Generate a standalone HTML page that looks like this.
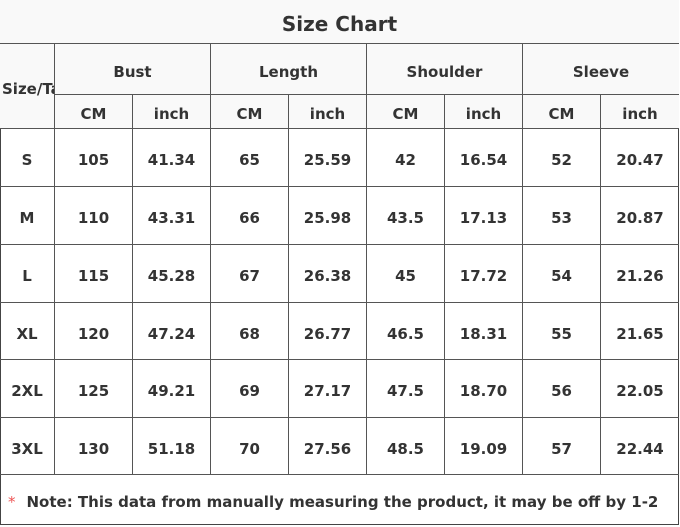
<!DOCTYPE html>
<html><head><meta charset="utf-8"><style>
body{margin:0;width:680px;height:527px;background:#fff;position:relative;overflow:hidden;font-family:"DejaVu Sans","Liberation Sans",sans-serif;font-weight:bold;color:#333}
.c{position:absolute;display:flex;align-items:center;justify-content:center;box-sizing:border-box;border-right:1.5px solid #555;border-bottom:1.5px solid #555;font-size:15px;overflow:hidden;white-space:nowrap;padding-top:5px}
.h{background:#f9f9f9}
</style></head><body>
<div style="position:absolute;left:0;top:0;width:679px;height:525px;border:1.5px solid #444;box-sizing:border-box"></div>
<div class="c h" style="left:0;top:0;width:679px;height:44px;font-size:20px;border-right:none;padding-top:4px">Size Chart</div>
<div class="c h" style="left:0;top:44px;width:55px;height:85px;justify-content:flex-start;padding-left:2px">Size/Tag</div>
<div class="c h" style="left:55px;top:44px;width:156px;height:51px">Bust</div>
<div class="c h" style="left:211px;top:44px;width:156px;height:51px">Length</div>
<div class="c h" style="left:367px;top:44px;width:156px;height:51px">Shoulder</div>
<div class="c h" style="left:523px;top:44px;width:156px;height:51px;border-right:none">Sleeve</div>
<div id="g"></div>
<div class="c" style="left:0;top:475px;width:679px;height:50px;justify-content:flex-start;padding-left:8px;border:none;font-size:15px;padding-top:4px"><span style="color:#e55;font-weight:normal;margin-right:11px">*</span>Note: This data from manually measuring the product, it may be off by 1-2</div>
<script>
var xs=[0,55,133,211,289,367,445,523,601,679];
var rows=[["S",105,"41.34",65,"25.59",42,"16.54",52,"20.47"],["M",110,"43.31",66,"25.98","43.5","17.13",53,"20.87"],["L",115,"45.28",67,"26.38",45,"17.72",54,"21.26"],["XL",120,"47.24",68,"26.77","46.5","18.31",55,"21.65"],["2XL",125,"49.21",69,"27.17","47.5","18.70",56,"22.05"],["3XL",130,"51.18",70,"27.56","48.5","19.09",57,"22.44"]];
var h="";
for(var i=1;i<9;i++){h+='<div class="c h" style="left:'+xs[i]+'px;top:95px;width:'+(xs[i+1]-xs[i])+'px;height:34px;'+(i==8?'border-right:none':'')+'">'+(i%2?'CM':'inch')+'</div>';}
var ys=[129,187,245,303,360,418,475];
for(var r=0;r<6;r++)for(var i=0;i<9;i++){h+='<div class="c" style="left:'+xs[i]+'px;top:'+ys[r]+'px;width:'+(xs[i+1]-xs[i])+'px;height:'+(ys[r+1]-ys[r])+'px;'+(i==8?'border-right:none':'')+'">'+rows[r][i]+'</div>';}
document.getElementById("g").innerHTML=h;
</script>
</body></html>
